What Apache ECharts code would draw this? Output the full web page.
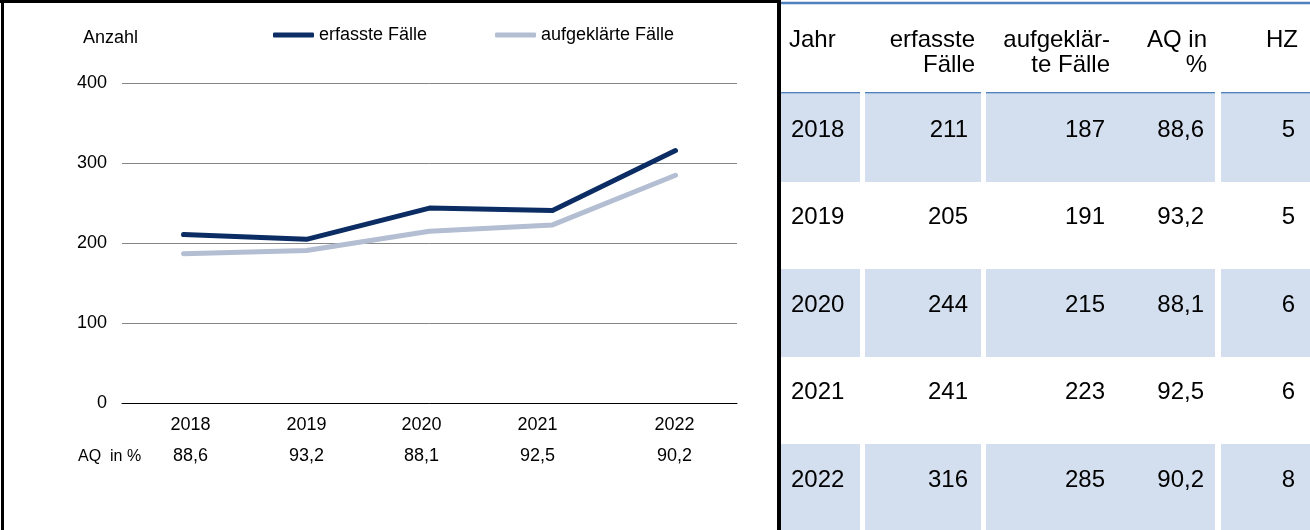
<!DOCTYPE html>
<html>
<head>
<meta charset="utf-8">
<script src="https://cdn.jsdelivr.net/npm/echarts@6/dist/echarts.min.js"></script>
<style>
html,body{margin:0;padding:0;background:#fff;}
#c{width:1310px;height:530px;}
</style>
</head>
<body>
<div id="c"></div>
<script>
// ---- data ----
var years = ['2018', '2019', '2020', '2021', '2022'];
var erfasst = [211, 205, 244, 241, 316];
var aufgeklaert = [187, 191, 215, 223, 285];
var aq = [88.6, 93.2, 88.1, 92.5, 90.2];
var hz = [5, 5, 6, 6, 8];
var seriesNames = ['erfasste Fälle', 'aufgeklärte Fälle'];
var headers = [['Jahr'], ['erfasste', 'Fälle'], ['aufgeklär-', 'te Fälle'], ['AQ in', '%'], ['HZ']];

// ---- style ----
var FONT = '"Liberation Sans", Arial, sans-serif';
var DARK = '#0b2d64';
var LIGHT = '#b4bed2';
var CELL = '#d3dfee';
var BLUE = '#4f81bd';
// horizontal nudges of the category labels (px, as placed in the original)
var labelShift = [7, 0, -8, -15, -1];

function fmt(v) { return v.toFixed(1).replace('.', ','); }

var chart = echarts.init(document.getElementById('c'), null, {renderer: 'canvas'});

var graphics = [];
// left panel frame
graphics.push({type: 'line', shape: {x1: 0, y1: 1.5, x2: 779, y2: 1.5}, style: {stroke: '#000', lineWidth: 3}, silent: true});
graphics.push({type: 'line', shape: {x1: 2.5, y1: 0, x2: 2.5, y2: 530}, style: {stroke: '#000', lineWidth: 3}, silent: true});
// "Anzahl"
graphics.push({type: 'text', style: {text: 'Anzahl', x: 83, y: 38, fill: '#000', fontSize: 18, fontFamily: FONT, align: 'left', verticalAlign: 'middle'}});
graphics.push({type: 'text', style: {text: 'AQ  in %', x: 78, y: 457, fill: '#000', fontSize: 16, fontFamily: FONT, align: 'left', verticalAlign: 'middle'}});

// ---- table ----
var colBg = [[781, 860], [865, 981], [986, 1215], [1221, 1310]];
var headTop = 94, rowH = 87.5;
var tFont = 24;
// top blue rule
graphics.push({type: 'line', shape: {x1: 778, y1: 3, x2: 1310, y2: 3}, style: {stroke: BLUE, lineWidth: 2.5}, silent: true});
// header bottom rules
colBg.forEach(function (c) {
  graphics.push({type: 'line', shape: {x1: c[0], y1: 92.8, x2: c[1], y2: 92.8}, style: {stroke: BLUE, lineWidth: 1.6}, silent: true});
});
// shaded rows
years.forEach(function (y, i) {
  if (i % 2 === 0) {
    colBg.forEach(function (c) {
      graphics.push({type: 'rect', shape: {x: c[0], y: headTop + i * rowH, width: c[1] - c[0], height: rowH + 0.5}, style: {fill: CELL}, silent: true});
    });
  }
});
// header text
var headX = [789, 975, 1110, 1207, 1298];
var headAlign = ['left', 'right', 'right', 'right', 'right'];
headers.forEach(function (lines, j) {
  lines.forEach(function (t, k) {
    graphics.push({type: 'text', style: {text: t, x: headX[j], y: 40 + k * 25, fill: '#000', fontSize: tFont, fontFamily: FONT, align: headAlign[j], verticalAlign: 'middle'}});
  });
});
// body text
var bodyX = [791, 968, 1105, 1204, 1295];
years.forEach(function (y, i) {
  var vals = [y, String(erfasst[i]), String(aufgeklaert[i]), fmt(aq[i]), String(hz[i])];
  vals.forEach(function (t, j) {
    graphics.push({type: 'text', style: {text: t, x: bodyX[j], y: headTop + i * rowH + 36, fill: '#000', fontSize: tFont, fontFamily: FONT, align: headAlign[j], verticalAlign: 'middle'}});
  });
});
// separator (thick black vertical)
graphics.push({type: 'line', shape: {x1: 779, y1: 0, x2: 779, y2: 530}, style: {stroke: '#000', lineWidth: 4}, silent: true, z: 100});

// rich styles per label index, shifted horizontally by padding
var rich = {};
labelShift.forEach(function (s, i) {
  var pad = s >= 0 ? [0, 0, 0, 2 * s] : [0, -2 * s, 0, 0];
  rich['y' + i] = {fontSize: 18, lineHeight: 18, fontFamily: FONT, color: '#000', padding: pad};
  rich['a' + i] = {fontSize: 18, lineHeight: 44, fontFamily: FONT, color: '#000', padding: pad};
});

var option = {
  animation: false,
  backgroundColor: '#fff',
  textStyle: {fontFamily: FONT},
  grid: {left: 122, right: 573, top: 83.3, bottom: 126.7, containLabel: false},
  legend: {
    left: 268, top: 21, itemWidth: 41, itemHeight: 5, itemGap: 68,
    icon: 'roundRect',
    textStyle: {fontSize: 18, color: '#000', fontFamily: FONT},
    data: seriesNames
  },
  xAxis: {
    type: 'category', data: years, boundaryGap: true,
    axisLine: {lineStyle: {color: '#000', width: 1}},
    axisTick: {show: false},
    axisLabel: {
      margin: 13, color: '#000', interval: 0,
      formatter: function (v, idx) { return '{y' + idx + '|' + v + '}\n{a' + idx + '|' + fmt(aq[idx]) + '}'; },
      rich: rich
    }
  },
  yAxis: {
    type: 'value', min: 0, max: 400, interval: 100,
    axisLine: {show: false}, axisTick: {show: false},
    axisLabel: {fontSize: 18, color: '#000', margin: 15, fontFamily: FONT},
    splitLine: {lineStyle: {color: '#868686', width: 1}}
  },
  series: [
    {name: seriesNames[0], type: 'line', data: erfasst, symbol: 'none', z: 3,
     lineStyle: {color: DARK, width: 5, cap: 'round', join: 'round'}, itemStyle: {color: DARK}},
    {name: seriesNames[1], type: 'line', data: aufgeklaert, symbol: 'none', z: 2,
     lineStyle: {color: LIGHT, width: 5, cap: 'round', join: 'round'}, itemStyle: {color: LIGHT}}
  ],
  graphic: graphics
};
chart.setOption(option);
</script>
</body>
</html>
